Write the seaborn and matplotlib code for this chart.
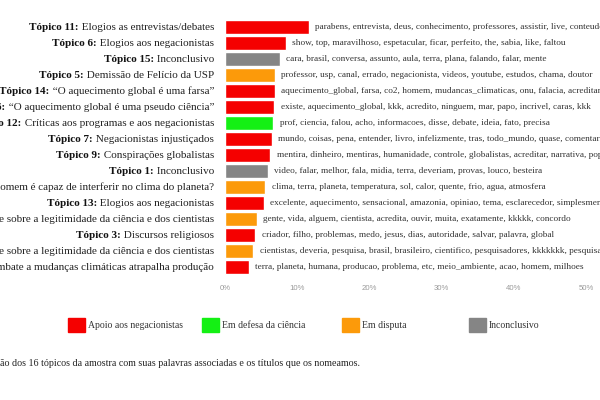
import matplotlib
matplotlib.use("Agg")
import matplotlib.pyplot as plt
import matplotlib.transforms as mtransforms
from matplotlib.patches import Rectangle
from matplotlib.ticker import PercentFormatter
import pandas as pd
import seaborn as sns

# topic key, bold prefix, title, share of comments, category, associated words
topic_keys = [f"t{i}" for i in range(16)]
prefixes = [
    "Tópico 11:", "Tópico 6:", "Tópico 15:", "Tópico 5:", "Tópico 14:", "Tópico 16:",
    "Tópico 12:", "Tópico 7:", "Tópico 9:", "Tópico 1:", "Tópico 8:", "Tópico 13:",
    "Tópico 2:", "Tópico 3:", "Tópico 4:", "Tópico 10:",
]
titles = [
    "Elogios as entrevistas/debates",
    "Elogios aos negacionistas",
    "Inconclusivo",
    "Demissão de Felício da USP",
    "\u201cO aquecimento global é uma farsa\u201d",
    "\u201cO aquecimento global é uma pseudo ciência\u201d",
    "Críticas aos programas e aos negacionistas",
    "Negacionistas injustiçados",
    "Conspirações globalistas",
    "Inconclusivo",
    "O homem é capaz de interferir no clima do planeta?",
    "Elogios aos negacionistas",
    "Debate sobre a legitimidade da ciência e dos cientistas",
    "Discursos religiosos",
    "Debate sobre a legitimidade da ciência e dos cientistas",
    "Combate a mudanças climáticas atrapalha produção",
]
shares = [0.116, 0.084, 0.076, 0.069, 0.069, 0.068, 0.067, 0.065,
          0.063, 0.059, 0.056, 0.054, 0.044, 0.042, 0.039, 0.033]
categories = [
    "Apoio aos negacionistas", "Apoio aos negacionistas", "Inconclusivo", "Em disputa",
    "Apoio aos negacionistas", "Apoio aos negacionistas", "Em defesa da ciência",
    "Apoio aos negacionistas", "Apoio aos negacionistas", "Inconclusivo", "Em disputa",
    "Apoio aos negacionistas", "Em disputa", "Apoio aos negacionistas", "Em disputa",
    "Apoio aos negacionistas",
]
words = [
    "parabens, entrevista, deus, conhecimento, professores, assistir, live, conteudo",
    "show, top, maravilhoso, espetacular, ficar, perfeito, the, sabia, like, faltou",
    "cara, brasil, conversa, assunto, aula, terra, plana, falando, falar, mente",
    "professor, usp, canal, errado, negacionista, videos, youtube, estudos, chama, doutor",
    "aquecimento_global, farsa, co2, homem, mudancas_climaticas, onu, falacia, acreditam",
    "existe, aquecimento_global, kkk, acredito, ninguem, mar, papo, incrivel, caras, kkk",
    "prof, ciencia, falou, acho, informacoes, disse, debate, ideia, fato, precisa",
    "mundo, coisas, pena, entender, livro, infelizmente, tras, todo_mundo, quase, comentarios",
    "mentira, dinheiro, mentiras, humanidade, controle, globalistas, acreditar, narrativa, populacao",
    "video, falar, melhor, fala, midia, terra, deveriam, provas, louco, besteira",
    "clima, terra, planeta, temperatura, sol, calor, quente, frio, agua, atmosfera",
    "excelente, aquecimento, sensacional, amazonia, opiniao, tema, esclarecedor, simplesmente",
    "gente, vida, alguem, cientista, acredita, ouvir, muita, exatamente, kkkkk, concordo",
    "criador, filho, problemas, medo, jesus, dias, autoridade, salvar, palavra, global",
    "cientistas, deveria, pesquisa, brasil, brasileiro, cientifico, pesquisadores, kkkkkkk, pesquisar, estudo",
    "terra, planeta, humana, producao, problema, etc, meio_ambiente, acao, homem, milhoes",
]
legend_order = ["Apoio aos negacionistas", "Em defesa da ciência", "Em disputa", "Inconclusivo"]
palette = {
    "Apoio aos negacionistas": "#F50000",
    "Em defesa da ciência": "#14F014",
    "Em disputa": "#FC9A0A",
    "Inconclusivo": "#858585",
}
caption = "ão dos 16 tópicos da amostra com suas palavras associadas e os títulos que os nomeamos."

df = pd.DataFrame({"topico": topic_keys, "share": shares, "categoria": categories})

sns.set_theme(style="white")
plt.rcParams["font.family"] = ["Liberation Serif", "DejaVu Serif"]

W, H = 600, 400
fig = plt.figure(figsize=(6, 4), dpi=100)
x0, x50 = 225, 586
ax = fig.add_axes([x0 / W, 1 - 275 / H, (x50 - x0) / W, 256 / H])

sns.barplot(data=df, x="share", y="topico", hue="categoria", palette=palette,
            order=topic_keys, dodge=False, width=0.88, legend=False, ax=ax,
            saturation=1)
ax.set_xlim(0, 0.5)
ax.set_ylim(15.5, -0.5)
ax.set_xticks([0, 0.1, 0.2, 0.3, 0.4, 0.5])
ax.xaxis.set_major_formatter(PercentFormatter(1, decimals=0))
ax.tick_params(axis="x", length=0, pad=7, labelsize=5.6, labelcolor="#9a9a9a")
for lab in ax.get_xticklabels():
    lab.set_family(["Liberation Sans", "DejaVu Sans"])
ax.set_yticks([])
ax.set_xlabel("")
ax.set_ylabel("")
sns.despine(ax=ax, left=True, bottom=True)

# topic labels: bold prefix + regular title, right aligned left of the bars
trans = mtransforms.blended_transform_factory(fig.transFigure, ax.transData)
for i, (pre, title) in enumerate(zip(prefixes, titles)):
    t = ax.text(214 / W, i, " " + title, transform=trans, ha="right", va="center",
                fontsize=8.05, color="#222222", clip_on=False)
    ax.annotate(pre, xy=(0, 0), xycoords=t, ha="right", va="bottom",
                fontsize=8.05, fontweight="bold", color="#111111")

# associated words right of each bar
for i, (v, w) in enumerate(zip(shares, words)):
    ax.text(v + 0.009, i, w, ha="left", va="center", fontsize=6.65,
            color="#333333", clip_on=False)

# legend row
legend_x = [68, 202, 342, 469]
for xs, cat in zip(legend_x, legend_order):
    fig.patches.append(Rectangle((xs / W, 1 - 332 / H), 17 / W, 14 / H,
                                 transform=fig.transFigure, color=palette[cat]))
    fig.text((xs + 20) / W, 1 - 325 / H, cat, ha="left", va="center",
             fontsize=7.0, color="#333333")

fig.text(0.5 / W, 1 - 364 / H, caption, ha="left", va="center",
         fontsize=7.2, color="#222222")

fig.savefig("out.png", dpi=100, facecolor="white")
